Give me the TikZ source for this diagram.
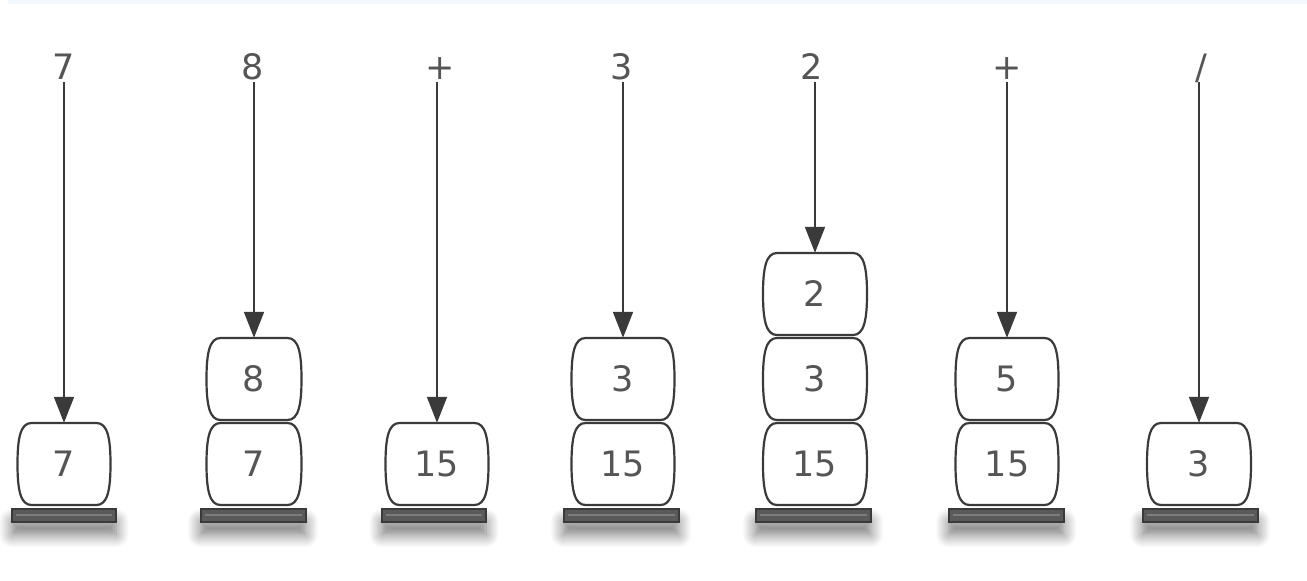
\documentclass[tikz,border=0pt]{standalone}
\usepackage{fontspec}
\setmainfont{DejaVu Sans}
\usetikzlibrary{arrows.meta,shadows.blur}
\definecolor{ink}{HTML}{3A3A3A}
\definecolor{txt}{HTML}{555555}
\definecolor{platefill}{HTML}{5A5A5A}
\definecolor{platestripe}{HTML}{7C7C7C}
\definecolor{strip}{HTML}{F2F8FB}
\tikzset{
  cell/.style={shape=rectangle, inner sep=0pt, minimum height=82pt, text=txt, font=\fontsize{35}{40}\selectfont},
  cellshape/.style={draw=ink, line width=2.2pt, fill=white},
  lbl/.style={inner sep=3pt, text=txt, font=\fontsize{35}{40}\selectfont, text height=26pt, text depth=0pt},
  arr/.style={draw=ink, line width=1.8pt, -{Triangle[width=20pt,length=26pt]}},
  plate/.style={shape=rectangle, draw=ink, fill=platefill, line width=2pt, minimum height=13pt, inner sep=0pt,
    blur shadow={shadow xshift=0pt, shadow yshift=-13pt, shadow blur radius=13pt, shadow blur steps=12, shadow opacity=55}},
  platelight/.style={draw=platestripe, line width=1.6pt},
}
\newcommand{\barrelcell}[5]{%
  \pgfmathsetmacro\bcxl{#2-#4/2}\pgfmathsetmacro\bcxr{#2+#4/2}%
  \pgfmathsetmacro\bcyt{#3-41}\pgfmathsetmacro\bcyb{#3+41}%
  \path[cellshape] (\bcxr-14,\bcyt) .. controls (\bcxr-3,\bcyt) and (\bcxr,#3-26) .. (\bcxr,#3)
    .. controls (\bcxr,#3+26) and (\bcxr-3,\bcyb) .. (\bcxr-14,\bcyb) -- (\bcxl+14,\bcyb)
    .. controls (\bcxl+3,\bcyb) and (\bcxl,#3+26) .. (\bcxl,#3)
    .. controls (\bcxl,#3-26) and (\bcxl+3,\bcyt) .. (\bcxl+14,\bcyt) -- cycle;
  \node[cell, minimum width=#4pt] (#1) at (#2,#3) {#5};
}
\newcommand{\baseplate}[3]{%
  \node[plate, minimum width=#3pt] (#1) at (#2,515) {};
  \draw[platelight] ([xshift=5pt]#1.west) -- ([xshift=-5pt]#1.east);
}
\begin{document}
\begin{tikzpicture}[x=1pt,y=-1pt]
\useasboundingbox (0,0) rectangle (1307,581);
\fill[strip] (8,0) rectangle (1307,4);

% labels
\node[lbl] (l1) at (64,66) {7};
\node[lbl] (l2) at (253,66) {8};
\node[lbl] (l3) at (440,66) {+};
\node[lbl] (l4) at (622,66) {3};
\node[lbl] (l5) at (812,66) {2};
\node[lbl] (l6) at (1007,66) {+};
\node[lbl] (l7) at (1201,66) {/};

% plates
\baseplate{p1}{64}{104}
\baseplate{p2}{253}{105}
\baseplate{p3}{434}{104}
\baseplate{p4}{621}{115}
\baseplate{p5}{813}{115}
\baseplate{p6}{1006}{115}
\baseplate{p7}{1200}{115}

% stacks
\barrelcell{c1a}{64}{464}{93}{7}
\barrelcell{c2a}{254}{464}{95}{7}
\barrelcell{c2b}{254}{379}{95}{8}
\barrelcell{c3a}{437}{464}{103}{15}
\barrelcell{c4a}{623}{464}{103}{15}
\barrelcell{c4b}{623}{379}{103}{3}
\barrelcell{c5a}{815}{464}{104}{15}
\barrelcell{c5b}{815}{379}{104}{3}
\barrelcell{c5c}{815}{294}{104}{2}
\barrelcell{c6a}{1007}{464}{103}{15}
\barrelcell{c6b}{1007}{379}{103}{5}
\barrelcell{c7a}{1199}{464}{104}{3}

% arrows
\draw[arr] (c1a.north |- l1.south) -- (c1a.north);
\draw[arr] (c2b.north |- l2.south) -- (c2b.north);
\draw[arr] (c3a.north |- l3.south) -- (c3a.north);
\draw[arr] (c4b.north |- l4.south) -- (c4b.north);
\draw[arr] (c5c.north |- l5.south) -- (c5c.north);
\draw[arr] (c6b.north |- l6.south) -- (c6b.north);
\draw[arr] (c7a.north |- l7.south) -- (c7a.north);
\end{tikzpicture}
\end{document}
